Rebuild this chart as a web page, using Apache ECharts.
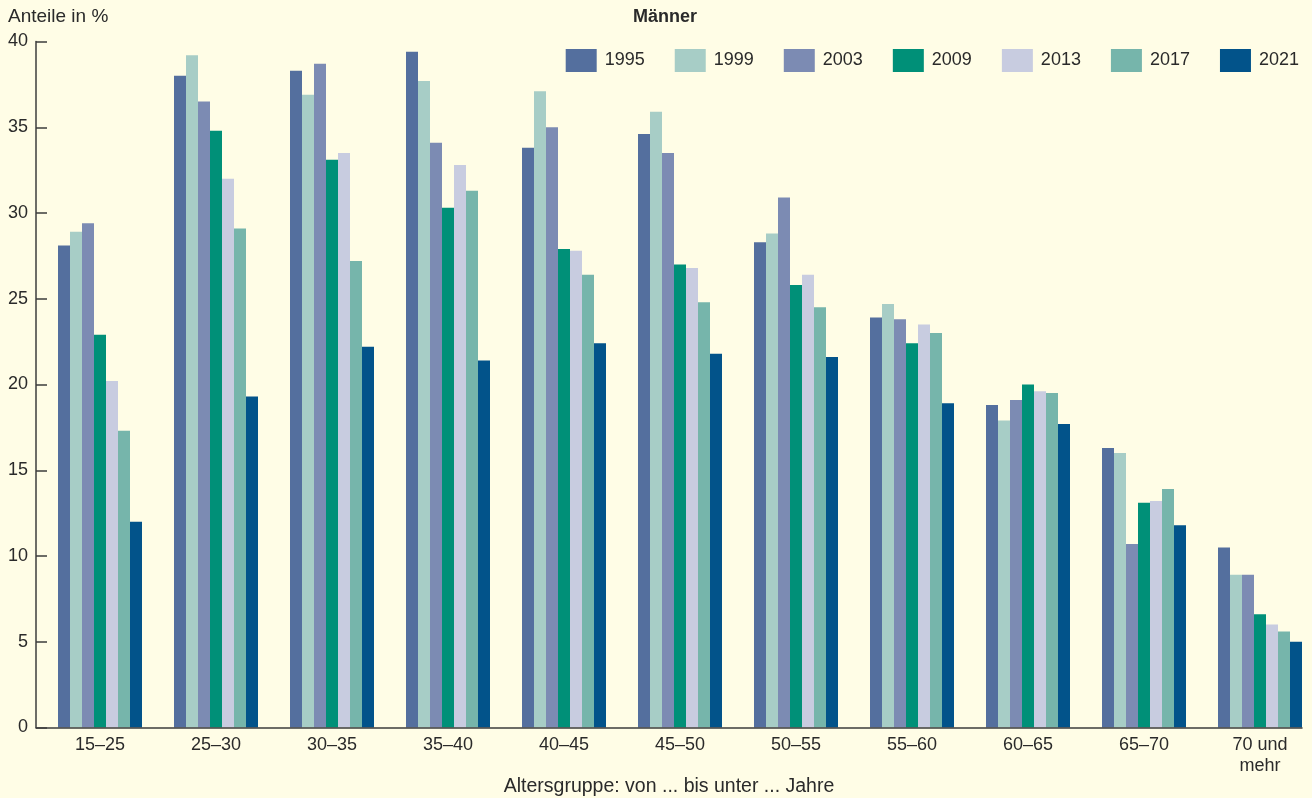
<!DOCTYPE html>
<html>
<head>
<meta charset="utf-8">
<script src="https://cdn.jsdelivr.net/npm/echarts@6/dist/echarts.min.js"></script>
<style>
html,body{margin:0;padding:0;background:#fffde6;}
#c{width:1312px;height:798px;}
</style>
</head>
<body>
<div id="c"></div>
<script>
const categories = ['15–25','25–30','30–35','35–40','40–45','45–50','50–55','55–60','60–65','65–70','70 und\nmehr'];
const years = ['1995','1999','2003','2009','2013','2017','2021'];
const v1995 = [28.1, 38.0, 38.3, 39.4, 33.8, 34.6, 28.3, 23.9, 18.8, 16.3, 10.5];
const v1999 = [28.9, 39.2, 36.9, 37.7, 37.1, 35.9, 28.8, 24.7, 17.9, 16.0, 8.9];
const v2003 = [29.4, 36.5, 38.7, 34.1, 35.0, 33.5, 30.9, 23.8, 19.1, 10.7, 8.9];
const v2009 = [22.9, 34.8, 33.1, 30.3, 27.9, 27.0, 25.8, 22.4, 20.0, 13.1, 6.6];
const v2013 = [20.2, 32.0, 33.5, 32.8, 27.8, 26.8, 26.4, 23.5, 19.6, 13.2, 6.0];
const v2017 = [17.3, 29.1, 27.2, 31.3, 26.4, 24.8, 24.5, 23.0, 19.5, 13.9, 5.6];
const v2021 = [12.0, 19.3, 22.2, 21.4, 22.4, 21.8, 21.6, 18.9, 17.7, 11.8, 5.0];
const yTicks = [0, 5, 10, 15, 20, 25, 30, 35, 40];

const seriesValues = [v1995, v1999, v2003, v2009, v2013, v2017, v2021];
const colors = ['#546f9e','#a7cdc6','#7c8bb3','#009078','#c8cce0','#76b5ab','#02538a'];
const FONT = 'Liberation Sans, Arial, sans-serif';
const TXT = '#2a2a2a';
const AX = '#3c3c3c';

const chart = echarts.init(document.getElementById('c'), null, {renderer:'canvas'});
const option = {
  backgroundColor: '#fffde6',
  animation: false,
  color: colors,
  textStyle: {fontFamily: FONT, color: TXT},
  title: [
    {text: 'Anteile in %', left: 8, top: 7, padding: 0, textStyle: {fontFamily: FONT, fontSize: 19, fontWeight: 'normal', color: TXT}},
    {text: 'Männer', left: 633, top: 8, padding: 0, textStyle: {fontFamily: FONT, fontSize: 18, fontWeight: 'bold', color: TXT}}
  ],
  legend: {
    data: years,
    right: 13, top: 49, padding: 0,
    itemWidth: 31, itemHeight: 23, itemGap: 30,
    icon: 'rect',
    textStyle: {fontFamily: FONT, fontSize: 18, color: TXT, padding: [0,0,0,3]}
  },
  grid: [
    {left: 42, width: 1276, top: 41.5, bottom: 70.5, containLabel: false, outerBoundsMode: 'none'},
    {left: 36, right: 10, top: 41.5, bottom: 70.5, containLabel: false, outerBoundsMode: 'none'}
  ],
  xAxis: [
    {
      type: 'category', gridIndex: 0, data: categories,
      axisLine: {show: false}, axisTick: {show: false},
      axisLabel: {fontFamily: FONT, fontSize: 18, color: TXT, margin: 7, lineHeight: 21, interval: 0}
    },
    {
      type: 'value', gridIndex: 1, min: 0, max: 1, position: 'bottom', z: 10,
      axisLine: {show: true, onZero: false, lineStyle: {color: AX, width: 1.5}},
      axisTick: {show: false}, axisLabel: {show: false}, splitLine: {show: false},
      name: 'Altersgruppe: von ... bis unter ... Jahre',
      nameLocation: 'middle', nameGap: 49,
      nameTextStyle: {fontFamily: FONT, fontSize: 19.5, color: TXT}
    }
  ],
  yAxis: [
    {
      type: 'value', gridIndex: 0, min: yTicks[0], max: yTicks[yTicks.length-1], interval: 5,
      offset: 6, z: 10,
      axisLine: {show: true, lineStyle: {color: AX, width: 1.5}},
      axisTick: {show: true, inside: true, length: 11, lineStyle: {color: AX, width: 1.5}},
      axisLabel: {fontFamily: FONT, fontSize: 18, color: TXT, margin: 8},
      splitLine: {show: false}
    },
    {
      type: 'value', gridIndex: 1, min: 0, max: 1, show: false
    }
  ],
  series: years.map((y, i) => ({
    name: y, type: 'bar', xAxisIndex: 0, yAxisIndex: 0,
    data: seriesValues[i], barWidth: 12, barGap: '0%',
    itemStyle: {color: colors[i]}
  }))
};
chart.setOption(option);
</script>
</body>
</html>
